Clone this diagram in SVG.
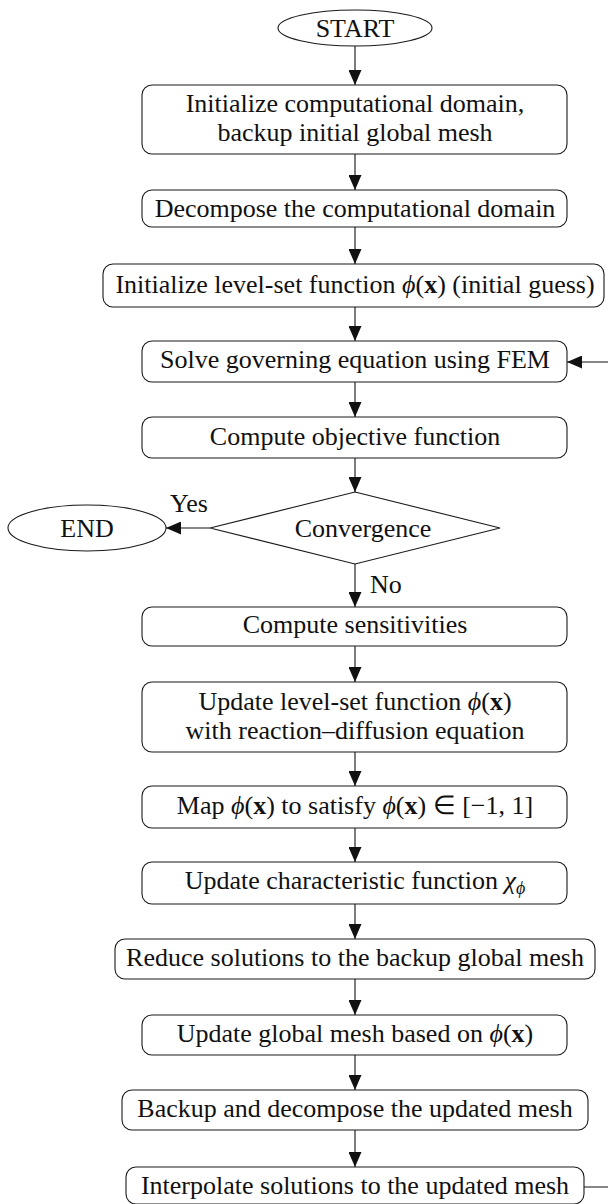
<svg xmlns="http://www.w3.org/2000/svg" width="608" height="1204" viewBox="0 0 608 1204">
  <style>
    .box { fill: #ffffff; stroke: #1a1a1a; stroke-width: 1.1; }
    .lbl { font-family: "Liberation Serif", "Times New Roman", serif; font-size: 26px; fill: #111111; text-anchor: middle; }
    .side { font-family: "Liberation Serif", "Times New Roman", serif; font-size: 26px; fill: #111111; }
    .edge { fill: none; stroke: #111111; stroke-width: 1.1; marker-end: url(#arrow); }
    .m { font-style: italic; }
    .v { font-weight: bold; }
  </style>
  <defs>
    <marker id="arrow" markerUnits="userSpaceOnUse" markerWidth="15" markerHeight="13" refX="15" refY="6.5" orient="auto">
      <path d="M0,0 L15,6.5 L0,13 z" fill="#111111"/>
    </marker>
  </defs>
  <rect width="608" height="1204" fill="#ffffff"/>

  <!-- connectors -->
  <g id="connectors">
    <path class="edge" d="M355,46 V85"/>
    <path class="edge" d="M355,154 V190"/>
    <path class="edge" d="M355,227 V264"/>
    <path class="edge" d="M355,307 V341"/>
    <path class="edge" d="M355,382 V417"/>
    <path class="edge" d="M355,458 V492"/>
    <path class="edge" d="M210,528 H166"/>
    <path class="edge" d="M355,564 V607"/>
    <path class="edge" d="M355,646 V682"/>
    <path class="edge" d="M355,752 V786"/>
    <path class="edge" d="M355,828 V862"/>
    <path class="edge" d="M355,904 V939"/>
    <path class="edge" d="M355,979 V1015"/>
    <path class="edge" d="M355,1055 V1090"/>
    <path class="edge" d="M355,1130 V1167"/>
    <!-- loop back from the last step to the FEM solve -->
    <path class="edge" d="M584,1187 H625 V362 H567"/>
    <text class="side" x="170" y="512">Yes</text>
    <text class="side" x="370" y="593">No</text>
  </g>

  <g id="start">
    <ellipse class="box" cx="355" cy="28" rx="77" ry="18"/>
    <text class="lbl" x="355" y="37">START</text>
  </g>

  <g id="init-domain">
    <rect class="box" x="142" y="85" width="425" height="69" rx="10"/>
    <text class="lbl" x="355" y="112">Initialize computational domain,</text>
    <text class="lbl" x="355" y="141">backup initial global mesh</text>
  </g>

  <g id="decompose">
    <rect class="box" x="142" y="190" width="425" height="37" rx="10"/>
    <text class="lbl" x="355" y="217">Decompose the computational domain</text>
  </g>

  <g id="init-levelset">
    <rect class="box" x="103" y="264" width="501" height="43" rx="10"/>
    <text class="lbl" x="355" y="293">Initialize level-set function <tspan class="m">ϕ</tspan>(<tspan class="v">x</tspan>) (initial guess)</text>
  </g>

  <g id="solve">
    <rect class="box" x="142" y="341" width="425" height="41" rx="10"/>
    <text class="lbl" x="355" y="368">Solve governing equation using FEM</text>
  </g>

  <g id="objective">
    <rect class="box" x="142" y="417" width="425" height="41" rx="10"/>
    <text class="lbl" x="355" y="445">Compute objective function</text>
  </g>

  <g id="convergence">
    <path class="box" d="M355,492 L500,528 L355,564 L210,528 Z"/>
    <text class="lbl" x="363" y="537">Convergence</text>
  </g>

  <g id="end">
    <ellipse class="box" cx="87" cy="528" rx="79" ry="23"/>
    <text class="lbl" x="87" y="537">END</text>
  </g>

  <g id="sensitivities">
    <rect class="box" x="142" y="607" width="425" height="39" rx="10"/>
    <text class="lbl" x="355" y="633">Compute sensitivities</text>
  </g>

  <g id="update-levelset">
    <rect class="box" x="142" y="682" width="425" height="70" rx="10"/>
    <text class="lbl" x="355" y="710">Update level-set function <tspan class="m">ϕ</tspan>(<tspan class="v">x</tspan>)</text>
    <text class="lbl" x="355" y="739">with reaction–diffusion equation</text>
  </g>

  <g id="map">
    <rect class="box" x="142" y="786" width="425" height="42" rx="10"/>
    <text class="lbl" x="355" y="814">Map <tspan class="m">ϕ</tspan>(<tspan class="v">x</tspan>) to satisfy <tspan class="m">ϕ</tspan>(<tspan class="v">x</tspan>) ∈ [−1, 1]</text>
  </g>

  <g id="characteristic">
    <rect class="box" x="142" y="862" width="425" height="42" rx="10"/>
    <text class="lbl" x="355" y="889">Update characteristic function <tspan class="m">χ</tspan><tspan class="m" font-size="18" dy="5">ϕ</tspan></text>
  </g>

  <g id="reduce">
    <rect class="box" x="115" y="939" width="480" height="40" rx="10"/>
    <text class="lbl" x="355" y="966">Reduce solutions to the backup global mesh</text>
  </g>

  <g id="update-mesh">
    <rect class="box" x="142" y="1015" width="425" height="40" rx="10"/>
    <text class="lbl" x="355" y="1042">Update global mesh based on <tspan class="m">ϕ</tspan>(<tspan class="v">x</tspan>)</text>
  </g>

  <g id="backup">
    <rect class="box" x="122" y="1090" width="466" height="40" rx="10"/>
    <text class="lbl" x="355" y="1117">Backup and decompose the updated mesh</text>
  </g>

  <g id="interpolate">
    <rect class="box" x="126" y="1167" width="458" height="37" rx="10"/>
    <text class="lbl" x="355" y="1194">Interpolate solutions to the updated mesh</text>
  </g>
</svg>
